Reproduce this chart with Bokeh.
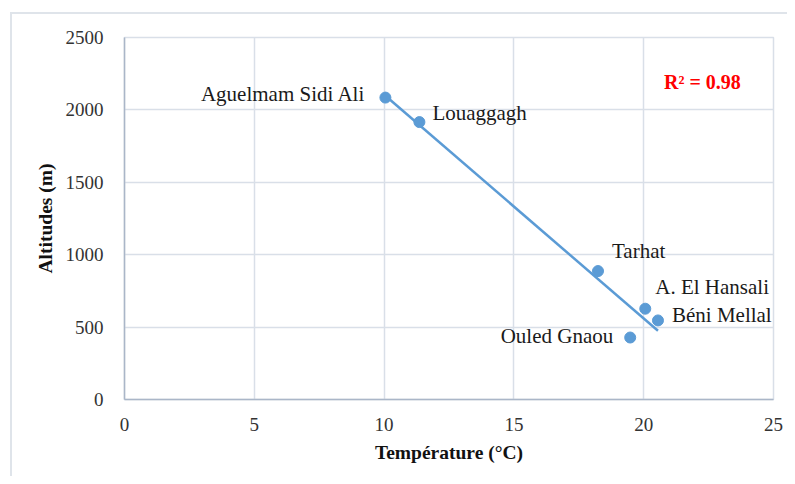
import numpy as np
from bokeh.plotting import figure
from bokeh.models import ColumnDataSource, Label, FixedTicker, Range1d
from bokeh.core.properties import value
from bokeh.embed import file_html
from bokeh.resources import INLINE

# ---- data ----
stations = ["Aguelmam Sidi Ali", "Louaggagh", "Tarhat", "A. El Hansali", "Béni Mellal", "Ouled Gnaou"]
temperature = [10.05, 11.36, 18.24, 20.06, 20.55, 19.48]
altitude = [2085, 1916, 887, 627, 546, 428]
x_ticks = [0, 5, 10, 15, 20, 25]
y_ticks = [0, 500, 1000, 1500, 2000, 2500]

# ---- label placement (pixels, style only) ----
label_dx = [-20, 13, 14, 10, 14, -17]
label_dy = [-4, -9, -20, -22, -5, -2]
label_align = ["right", "left", "left", "left", "left", "right"]

# linear trend line fitted to the data
xs = np.array(temperature)
ys = np.array(altitude)
slope, intercept = np.polyfit(xs, ys, 1)
r2 = np.corrcoef(xs, ys)[0, 1] ** 2
trend_x = [xs.min(), xs.max()]
trend_y = [slope * v + intercept for v in trend_x]

src = ColumnDataSource(dict(x=temperature, y=altitude, name=stations,
                            dx=label_dx, dy=label_dy, align=label_align))

BLUE = "#5b9bd5"
GRID = "#d9dfe8"
AXIS = "#aab6c8"
SERIF = "Liberation Serif"

p = figure(frame_width=649, frame_height=362,
           min_border_left=112, min_border_right=14, min_border_top=23, min_border_bottom=77,
           x_range=Range1d(0, 25), y_range=Range1d(0, 2500),
           output_backend="svg", toolbar_location=None,
           x_axis_label="Température (°C)", y_axis_label="Altitudes (m)")
# outer chart-area border (only its top and left edges fall inside the picture)
p.styles = {"margin-left": "10px", "margin-top": "12px",
            "border-left": "2px solid #dfe4ea", "border-top": "2px solid #dfe4ea",
            "background-color": "white"}

p.background_fill_color = "white"
p.border_fill_color = None
p.outline_line_color = GRID
p.outline_line_width = 1.5

p.xaxis.ticker = FixedTicker(ticks=x_ticks)
p.yaxis.ticker = FixedTicker(ticks=y_ticks)
p.xgrid.ticker = FixedTicker(ticks=x_ticks)
p.ygrid.ticker = FixedTicker(ticks=y_ticks)
for g in (p.xgrid, p.ygrid):
    g.grid_line_color = GRID
    g.grid_line_width = 1.5

for ax in (p.xaxis, p.yaxis):
    ax.axis_line_color = AXIS
    ax.axis_line_width = 1.5
    ax.major_tick_line_color = None
    ax.minor_tick_line_color = None
    ax.major_label_text_font = SERIF
    ax.major_label_text_font_size = "19px"
    ax.major_label_text_color = "#333333"
    ax.axis_label_text_font = SERIF
    ax.axis_label_text_font_size = "19.5px"
    ax.axis_label_text_font_style = "bold"
    ax.axis_label_text_color = "#111111"

p.yaxis.major_label_standoff = 15
p.yaxis.axis_label_standoff = 7
p.xaxis.major_label_standoff = 12
p.xaxis.axis_label_standoff = 8

p.line(trend_x, trend_y, line_color=BLUE, line_width=2.5)
p.scatter("x", "y", source=src, size=11, fill_color=BLUE, line_color=BLUE)

p.text("x", "y", text="name", source=src, x_offset="dx", y_offset="dy",
       text_align="align", text_baseline="middle",
       text_font=value(SERIF), text_font_size="21px", text_color="#1a1a1a")

p.add_layout(Label(x=22.26, y=2191, text=f"R² = {r2:.2f}",
                   text_align="center", text_baseline="middle",
                   text_font=SERIF, text_font_size="20px", text_font_style="bold",
                   text_color="#ff0000"))

open("out.html", "w").write(file_html(p, INLINE))
